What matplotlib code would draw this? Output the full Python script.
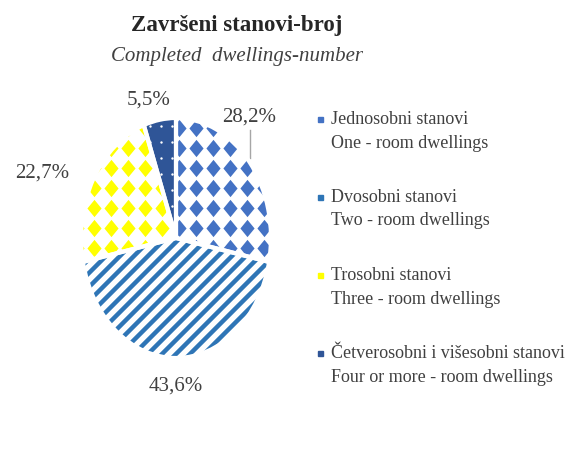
import numpy as np
import matplotlib.pyplot as plt
from matplotlib.patches import Rectangle
from matplotlib.collections import LineCollection

# data
labels_hr = ['Jednosobni stanovi', 'Dvosobni stanovi', 'Trosobni stanovi',
             'Četverosobni i višesobni stanovi']
labels_en = ['One - room dwellings', 'Two - room dwellings', 'Three - room dwellings',
             'Four or more - room dwellings']
shares = [28.2, 43.6, 22.7, 5.5]
pct_text = ['28,2%', '43,6%', '22,7%', '5,5%']
colors = ['#4472C4', '#2E75B6', '#FFFF00', '#2F5597']

plt.rcParams['font.family'] = ['Liberation Serif', 'DejaVu Serif']

W, H = 577, 474
fig = plt.figure(figsize=(W / 100, H / 100), dpi=100)
cx, cy, rx, ry = 176, 238, 95, 120
ax = fig.add_axes([(cx - rx) / W, (H - cy - ry) / H, 2 * rx / W, 2 * ry / H])

face = ['white', 'white', 'white', colors[3]]
wedges, _ = ax.pie(shares, startangle=90, counterclock=False, colors=face,
                   wedgeprops=dict(linewidth=0))
ax.set_aspect('auto')
ax.set_xlim(-1, 1)
ax.set_ylim(-1, 1)

# diagonal stripes on the two-room slice (45 deg on screen, ~14 px apart)
k = rx / ry
segs = [[(-1.3, c - 1.3 * k), (1.3, c + 1.3 * k)] for c in np.arange(-2.6, 2.6, 14 / ry)]
lc = LineCollection(segs, colors=colors[1], linewidths=3.2, zorder=2)
ax.add_collection(lc)
lc.set_clip_path(wedges[1])

# diamond pattern (slightly tall, like the stretched original)
diamond = [(0, 1), (0.82, 0), (0, -1), (-0.82, 0), (0, 1)]
gx, gy = np.meshgrid(np.arange(-1.3, 1.3, 17 / rx), np.arange(-1.3, 1.3, 20 / ry))
for i in (0, 2):
    sc = ax.scatter(gx.ravel() + 0.08, gy.ravel() + 0.05, marker=diamond, s=155,
                    color=colors[i], linewidths=0, zorder=2)
    sc.set_clip_path(wedges[i])

# white dots on the dark slice
dx, dy = np.meshgrid(np.arange(-1.2, 1.2, 11 / rx), np.arange(-1.2, 1.2, 16 / ry))
sc = ax.scatter(dx.ravel(), dy.ravel(), marker='o', s=3, color='white',
                linewidths=0, zorder=2)
sc.set_clip_path(wedges[3])

# white separators
ax.pie(shares, startangle=90, counterclock=False, colors=['none'] * 4,
       wedgeprops=dict(linewidth=3, edgecolor='white', zorder=3))
ax.set_aspect('auto')
ax.set_xlim(-1, 1)
ax.set_ylim(-1, 1)

# percentage labels
pos = [(0.77, 1.01), (0.0, -1.23), (-1.41, 0.54), (-0.29, 1.15)]
for i, t in enumerate(pct_text):
    ax.text(pos[i][0], pos[i][1], t, ha='center', va='center', fontsize=15,
            color='#404040', clip_on=False)
ax.plot([0.78, 0.78], [0.9, 0.67], color='#a6a6a6', lw=1, clip_on=False)

# title
fig.text(237 / W, 1 - 25 / H, 'Završeni stanovi-broj', ha='center', va='center',
         fontsize=16.5, fontweight='bold', color='#262626')
fig.text(237 / W, 1 - 57 / H, 'Completed  dwellings-number', ha='center', va='center',
         fontsize=15, style='italic', color='#404040')

# legend
for i in range(4):
    y1 = 120 + i * 78
    fig.text(331 / W, 1 - y1 / H, labels_hr[i], ha='left', va='center',
             fontsize=13, color='#404040')
    fig.text(331 / W, 1 - (y1 + 23) / H, labels_en[i], ha='left', va='center',
             fontsize=13, color='#404040')
    fig.patches.append(Rectangle((318 / W, 1 - (y1 + 2) / H), 5 / W, 5 / H,
                                 transform=fig.transFigure, color=colors[i],
                                 figure=fig))

fig.savefig('out.png', dpi=100)
